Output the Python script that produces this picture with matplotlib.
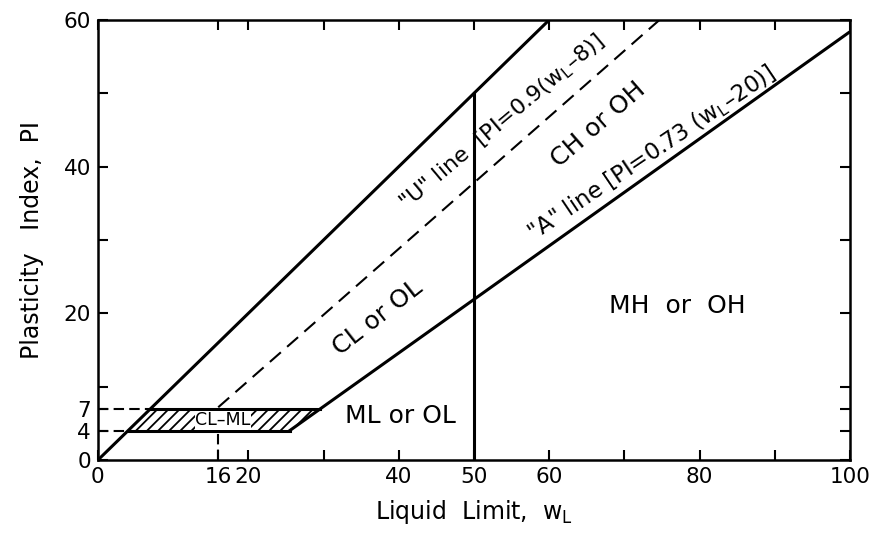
import matplotlib.pyplot as plt
import numpy as np

plt.rcParams['font.family'] = ['DejaVu Sans']
plt.rcParams['hatch.linewidth'] = 1.3

# "U" line and "A" line coefficients, PI = slope * (wL - offset)
u_slope, u_offset = 0.9, 8
a_slope, a_offset = 0.73, 20

# upper bound line through the origin
upper_wl = [0, 60]
upper_pi = [0, 60]

# CL-ML band limits and divide between low and high plasticity
band_low, band_high = 4, 7
u_start_wl = 16
divide_wl = 50

x_ticks = [0, 16, 20, 40, 50, 60, 80, 100]
x_minor = [30, 70, 90]
y_ticks = [0, 4, 7, 20, 40, 60]
y_minor = [10, 30, 50]
unmarked_x = [16]
unmarked_y = [4, 7]

fig = plt.figure(figsize=(8.74, 5.4), dpi=100)
ax = fig.add_axes([0.112, 0.148, 0.8605, 0.815])

lw = 2.2
# upper line
ax.plot(upper_wl, upper_pi, color='black', lw=lw)

# A line from the bottom of the band to the right edge
a_wl = np.array([a_offset + band_low / a_slope, 100])
ax.plot(a_wl, a_slope * (a_wl - a_offset), color='black', lw=lw)

# U line (dashed) from wL=16 to the top
u_wl = np.array([u_start_wl, u_offset + 60 / u_slope])
ax.plot(u_wl, u_slope * (u_wl - u_offset), color='black', lw=1.5,
        dashes=(7, 4))

# vertical divide at wL = 50
ax.plot([divide_wl, divide_wl], [0, divide_wl], color='black', lw=lw)

# CL-ML hatched band
x_lo_right = a_offset + band_low / a_slope
x_hi_right = a_offset + band_high / a_slope
band_x = [band_low, band_high, x_hi_right, x_lo_right]
band_y = [band_low, band_high, band_high, band_low]
ax.fill(band_x, band_y, facecolor='white', edgecolor='black', hatch='///',
        lw=0)
ax.plot([band_high, x_hi_right], [band_high, band_high], color='black', lw=lw)
ax.plot([band_low, x_lo_right], [band_low, band_low], color='black', lw=lw)

# dashed guides
ax.plot([0, band_high], [band_high, band_high], color='black', lw=1.5, dashes=(5, 2.5))
ax.plot([0, band_low], [band_low, band_low], color='black', lw=1.5, dashes=(5, 2.5))
ax.plot([u_start_wl, u_start_wl], [0, band_high], color='black', lw=1.5, dashes=(5, 2.5))

ax.text(16.6, 5.4, 'CL\u2013ML', fontsize=12.5, ha='center', va='center',
        bbox=dict(facecolor='white', edgecolor='none', pad=0.3))

# zone labels
ax.text(37.2, 19.4, 'CL or OL', fontsize=18, rotation=38, ha='center', va='center')
ax.text(66.5, 45.8, 'CH or OH', fontsize=18, rotation=41, ha='center', va='center')
ax.text(40.2, 6.0, 'ML or OL', fontsize=18, ha='center', va='center')
ax.text(77.0, 21.0, 'MH  or  OH', fontsize=18, ha='center', va='center')
ax.text(53.7, 46, '"U" line  [PI=0.9(w$_\\mathrm{L}$\u20138)]', fontsize=16,
        rotation=40, ha='center', va='center')
ax.text(73.6, 41.8, '"A" line [PI=0.73 (w$_\\mathrm{L}$\u201320)]', fontsize=16.5,
        rotation=34, ha='center', va='center')

ax.set_xlim(0, 100)
ax.set_ylim(0, 60)
ax.set_xticks(x_ticks)
ax.set_xticks(x_minor, minor=True)
ax.set_yticks(y_ticks)
ax.set_yticks(y_minor, minor=True)
ax.tick_params(which='both', direction='in', length=7, width=1.5, labelsize=15.5,
               top=True, right=True, pad=5)
for t in ax.xaxis.get_major_ticks():
    if t.get_loc() in unmarked_x:
        t.tick1line.set_visible(False)
        t.tick2line.set_visible(False)
for t in ax.yaxis.get_major_ticks():
    if t.get_loc() in unmarked_y:
        t.tick1line.set_visible(False)
        t.tick2line.set_visible(False)
for s in ax.spines.values():
    s.set_linewidth(1.8)

ax.set_xlabel('Liquid  Limit,  w$_\\mathrm{L}$', fontsize=17, labelpad=8)
ax.set_ylabel('Plasticity   Index,  PI', fontsize=17, labelpad=14)

fig.savefig('out.png', dpi=100)
